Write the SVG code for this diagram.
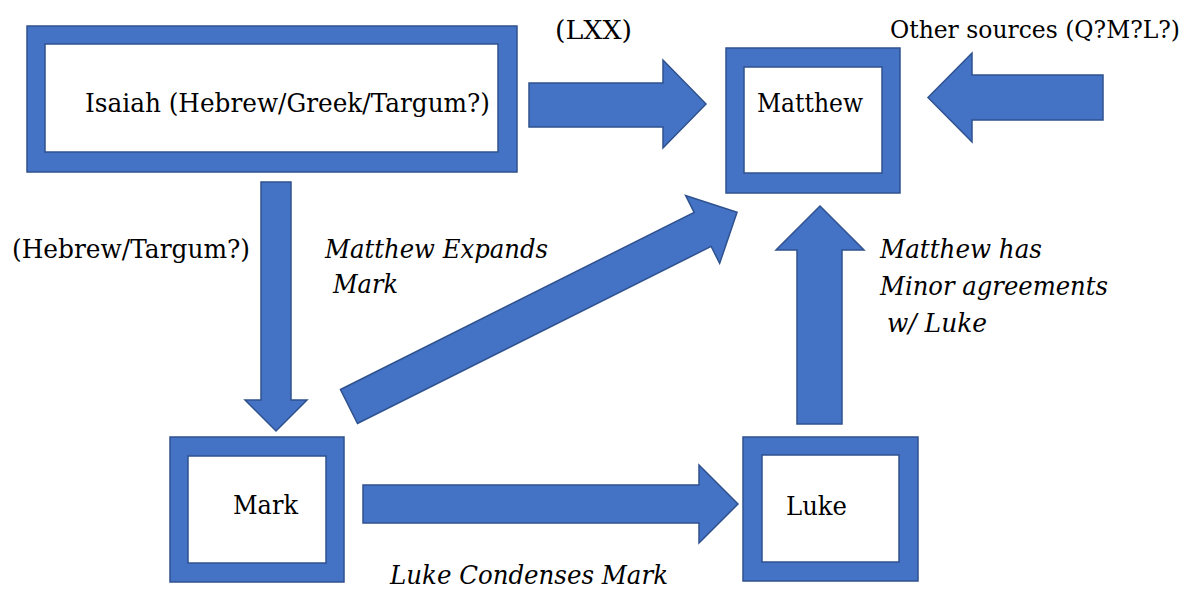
<svg xmlns="http://www.w3.org/2000/svg" width="1192" height="591" viewBox="0 0 1192 591">
<style>
.frame{fill:#4472C4;stroke:#2F528F;stroke-width:1.5}
.inner{fill:#FFFFFF;stroke:#2F528F;stroke-width:1.5}
.arrow{fill:#4472C4;stroke:#2F528F;stroke-width:1.5;stroke-linejoin:miter}
text{font-family:"DejaVu Serif","Liberation Serif",serif;font-size:26px;fill:#000000}
.i{font-style:italic}
.sm{font-size:24px}
</style>
<rect width="1192" height="591" fill="#FFFFFF"/>
<g id="connectors">
<polygon class="arrow" points="529,83 663,83 663,60 706,104 663,148 663,127 529,127"/>
<polygon class="arrow" points="1103,75 972,75 972,53 928,97.5 972,142 972,120 1103,120"/>
<polygon class="arrow" points="261,182 291,182 291,400 307,400 276,431 245,400 261,400"/>
<polygon class="arrow" points="363,485 699,485 699,465 738,504 699,543 699,523 363,523"/>
<polygon class="arrow" points="797,424 797,250 776,250 820,206 864,250 842,250 842,424"/>
<polygon class="arrow" transform="translate(349,406.5) rotate(-26.6)" points="0,-19 395.5,-19 395.5,-38 434,0 395.5,38 395.5,19 0,19"/>
</g>
<g id="node-isaiah">
<rect class="frame" x="27" y="26" width="490" height="146"/>
<rect class="inner" x="45" y="44" width="453" height="108"/>
<text x="85" y="112" textLength="405" lengthAdjust="spacingAndGlyphs">Isaiah (Hebrew/Greek/Targum?)</text>
</g>
<g id="node-matthew">
<rect class="frame" x="726" y="48" width="174" height="145"/>
<rect class="inner" x="744" y="67" width="138" height="106"/>
<text x="757" y="112" textLength="106" lengthAdjust="spacingAndGlyphs">Matthew</text>
</g>
<g id="node-mark">
<rect class="frame" x="170" y="437" width="174" height="145"/>
<rect class="inner" x="188" y="456" width="138" height="107"/>
<text x="233" y="514" textLength="65" lengthAdjust="spacingAndGlyphs">Mark</text>
</g>
<g id="node-luke">
<rect class="frame" x="743" y="437" width="175" height="144"/>
<rect class="inner" x="762" y="455" width="137" height="107"/>
<text x="786" y="515" textLength="61" lengthAdjust="spacingAndGlyphs">Luke</text>
</g>
<g id="labels">
<text x="555" y="39" textLength="77" lengthAdjust="spacingAndGlyphs">(LXX)</text>
<text class="sm" x="890" y="38" textLength="290" lengthAdjust="spacingAndGlyphs">Other sources (Q?M?L?)</text>
<text x="12" y="258" textLength="238" lengthAdjust="spacingAndGlyphs">(Hebrew/Targum?)</text>
<text class="i" x="325" y="258" textLength="223" lengthAdjust="spacingAndGlyphs">Matthew Expands</text>
<text class="i" x="333" y="293" textLength="65" lengthAdjust="spacingAndGlyphs">Mark</text>
<text class="i" x="880" y="258" textLength="162" lengthAdjust="spacingAndGlyphs">Matthew has</text>
<text class="i" x="880" y="295" textLength="228" lengthAdjust="spacingAndGlyphs">Minor agreements</text>
<text class="i" x="887" y="332" textLength="100" lengthAdjust="spacingAndGlyphs">w/ Luke</text>
<text class="i" x="390" y="584" textLength="278" lengthAdjust="spacingAndGlyphs">Luke Condenses Mark</text>
</g>
</svg>
